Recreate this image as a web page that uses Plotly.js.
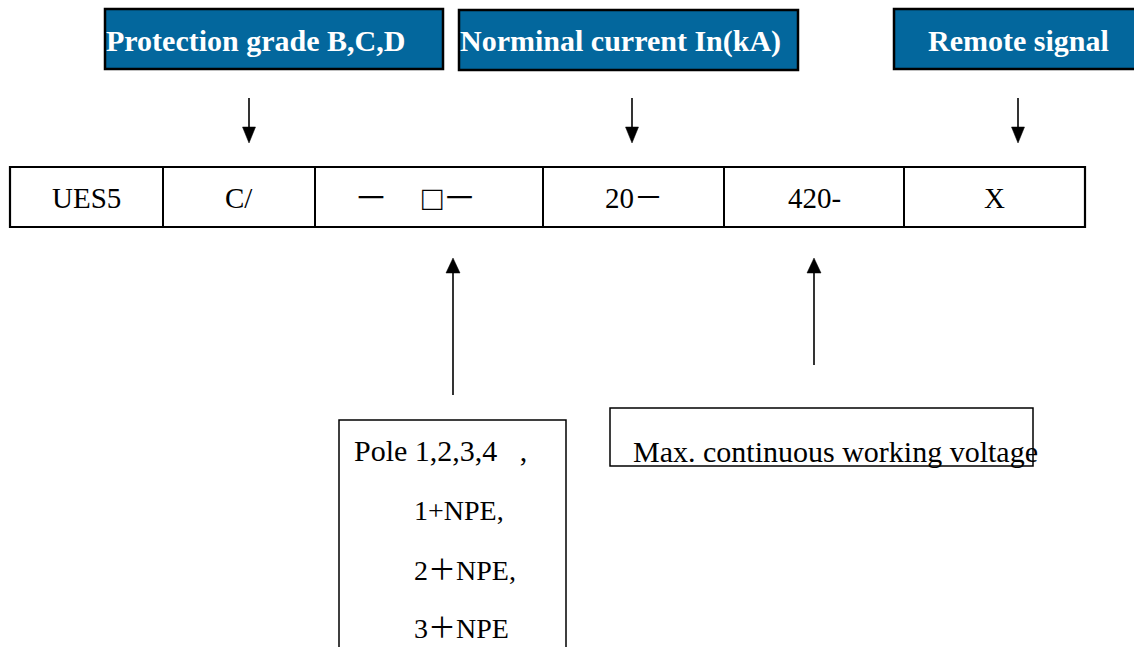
<!DOCTYPE html>
<html>
<head>
<meta charset="utf-8">
<script src="https://cdn.plot.ly/plotly-3.0.1.min.js"></script>
<style>html,body{margin:0;padding:0;background:#fff;}#chart{width:1134px;height:647px;}</style>
</head>
<body>
<div id="chart"></div>
<script>
// ---- content ----
const headerLabels = ["Protection grade B,C,D", "Norminal current In(kA)", "Remote signal"];
const codeCells = ["UES5", "C/", "－\u3000□－", "20－", "420-", "X"];
const poleOptions = ["Pole 1,2,3,4\u00a0\u00a0\u00a0,", "1+NPE,", "2＋NPE,", "3＋NPE"];
const voltageLabel = "Max. continuous working voltage";

// ---- geometry / style (layout only) ----
const headerBoxes = [[105, 9, 443, 69], [459, 10, 798, 70], [894, 9, 1142, 69]];
const headerAnchor = [["left", 104], ["left", 458], ["center", 1018]];
const cellEdges = [10, 163, 315, 543, 724, 904, 1085];
const cellSizes = [29, 29, 34, 29, 29, 29];
const cellShift = [0, 0, -14, 0, 0, 0];
const rowTop = 167, rowBot = 227;
const downArrowsX = [249, 632, 1018];
const upArrows = [[453, 395], [814, 365]];
const poleBox = [339, 420, 566, 660];
const poleTextPos = [[352, 450], [412, 510], [412, 570], [412, 628]];
const poleSizes = [30, 28, 28, 28];
const voltBox = [610, 408, 1033, 466];

const serif = "Liberation Serif, Times New Roman, Noto Sans CJK SC, serif";
const blue = "#03679D";
const shapes = [];
const annotations = [];

headerBoxes.forEach((b, i) => {
  shapes.push({type: "rect", xref: "x", yref: "y", x0: b[0], y0: b[1], x1: b[2], y1: b[3],
    fillcolor: blue, line: {color: "#000", width: 2.5}});
  annotations.push({xref: "x", yref: "y", x: headerAnchor[i][1], y: (b[1] + b[3]) / 2 + 1,
    xanchor: headerAnchor[i][0], yanchor: "middle", showarrow: false, text: "<b>" + headerLabels[i] + "</b>",
    font: {family: serif, size: 30, color: "#fff"}});
});

// down arrows
downArrowsX.forEach(x => {
  shapes.push({type: "line", xref: "x", yref: "y", x0: x, y0: 98, x1: x, y1: 130, line: {color: "#000", width: 1.6}});
  shapes.push({type: "path", xref: "x", yref: "y", path: `M ${x-6.5} 127 L ${x+6.5} 127 L ${x} 143 Z`,
    fillcolor: "#000", line: {color: "#000", width: 0.5}});
});

// code row
shapes.push({type: "rect", xref: "x", yref: "y", x0: cellEdges[0], y0: rowTop, x1: cellEdges[cellEdges.length-1], y1: rowBot,
  line: {color: "#000", width: 2.2}});
for (let i = 1; i < cellEdges.length - 1; i++) {
  shapes.push({type: "line", xref: "x", yref: "y", x0: cellEdges[i], y0: rowTop, x1: cellEdges[i], y1: rowBot,
    line: {color: "#000", width: 2}});
}
codeCells.forEach((t, i) => {
  annotations.push({xref: "x", yref: "y", x: (cellEdges[i] + cellEdges[i+1]) / 2 + cellShift[i], y: (rowTop + rowBot) / 2 + 1,
    xanchor: "center", yanchor: "middle", showarrow: false, text: t,
    font: {family: serif, size: cellSizes[i], color: "#000"}});
});

// up arrows
upArrows.forEach(a => {
  const x = a[0];
  shapes.push({type: "line", xref: "x", yref: "y", x0: x, y0: a[1], x1: x, y1: 270, line: {color: "#000", width: 1.6}});
  shapes.push({type: "path", xref: "x", yref: "y", path: `M ${x-7} 273 L ${x+7} 273 L ${x} 258 Z`,
    fillcolor: "#000", line: {color: "#000", width: 0.5}});
});

// pole box
shapes.push({type: "rect", xref: "x", yref: "y", x0: poleBox[0], y0: poleBox[1], x1: poleBox[2], y1: poleBox[3],
  line: {color: "#000", width: 1.5}});
poleOptions.forEach((t, i) => {
  annotations.push({xref: "x", yref: "y", x: poleTextPos[i][0], y: poleTextPos[i][1], xanchor: "left", yanchor: "middle",
    showarrow: false, text: t, font: {family: serif, size: poleSizes[i], color: "#000"}});
});

// voltage box
shapes.push({type: "rect", xref: "x", yref: "y", x0: voltBox[0], y0: voltBox[1], x1: voltBox[2], y1: voltBox[3],
  line: {color: "#000", width: 1.5}});
annotations.push({xref: "x", yref: "y", x: 631, y: 451, xanchor: "left", yanchor: "middle", showarrow: false,
  text: voltageLabel, font: {family: serif, size: 30, color: "#000"}});

Plotly.newPlot("chart", [], {
  width: 1134, height: 647,
  margin: {l: 0, r: 0, t: 0, b: 0},
  paper_bgcolor: "#fff", plot_bgcolor: "#fff",
  xaxis: {range: [0, 1134], visible: false, fixedrange: true},
  yaxis: {range: [647, 0], visible: false, fixedrange: true},
  showlegend: false,
  shapes: shapes,
  annotations: annotations
}, {staticPlot: true, displayModeBar: false});
</script>
</body>
</html>
